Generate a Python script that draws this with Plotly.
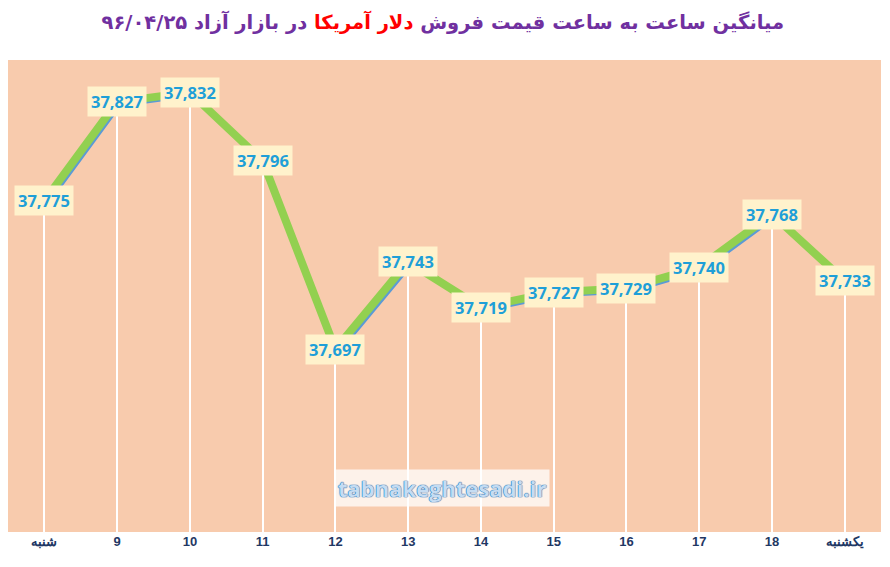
import plotly.graph_objects as go

hours = ["شنبه", "9", "10", "11", "12", "13", "14", "15", "16", "17", "18", "یکشنبه"]
prices = [37775, 37827, 37832, 37796, 37697, 37743, 37719, 37727, 37729, 37740, 37768, 37733]

y_range = [37601, 37849]
x_range = [-0.5, len(hours) - 0.5]

fig = go.Figure()

# white drop lines from each point down to the axis
fig.add_trace(go.Bar(
    x=hours, y=prices, width=0.03,
    marker=dict(color="white", line=dict(width=0)),
    hoverinfo="skip", showlegend=False,
))

# thin blue line peeking out under the green one (shadow, slightly offset axes)
fig.add_trace(go.Scatter(
    x=hours, y=prices, mode="lines",
    line=dict(color="#5B9BD5", width=3),
    xaxis="x2", yaxis="y2",
    hoverinfo="skip", showlegend=False,
))

# main green line, on its own overlay so it sits above the blue one
fig.add_trace(go.Scatter(
    x=hours, y=prices, mode="lines",
    line=dict(color="#92D050", width=8),
    xaxis="x3", yaxis="y3",
    showlegend=False,
))

annotations = []
for i, p in enumerate(prices):
    annotations.append(dict(
        x=i, y=p, text=f"{p:,}",
        showarrow=False, xanchor="center", yanchor="middle",
        font=dict(family="Open Sans, sans-serif", size=16.5, color="#1E9FD8", weight="bold"),
        bgcolor="#FFF2CC", borderpad=3,
    ))

annotations.append(dict(
    xref="paper", yref="paper", x=0.497, y=0.093,
    text="tabnakeghtesadi.ir", showarrow=False,
    xanchor="center", yanchor="middle",
    font=dict(family="Open Sans, sans-serif", size=22, color="#C5DCF2", weight="bold",
              shadow="0 0 1px #2E75B6, 0 0 1px #2E75B6, 0 0 1px #2E75B6"),
    bgcolor="rgba(255,255,255,0.75)", borderpad=3,
))

title_text = ("میانگین ساعت به ساعت قیمت فروش "
              "<span style='color:#FF0000'>دلار آمریکا</span>"
              " در بازار آزاد ۹۶/۰۴/۲۵")

# page body adds an 8px margin, so the figure is 8px smaller on each side
fig.update_layout(
    width=882, height=559,
    margin=dict(l=0, r=9, t=52, b=35),
    paper_bgcolor="white",
    plot_bgcolor="#F8CBAD",
    bargap=0,
    title=dict(
        text=title_text, x=0.493, xanchor="center",
        y=1 - 14 / 559, yanchor="middle", yref="container",
        font=dict(family="DejaVu Sans, sans-serif", size=19.5, color="#7030A0", weight="bold"),
    ),
    xaxis=dict(
        type="category", range=x_range, showgrid=False, zeroline=False,
        showline=False, ticks="", automargin=False,
        tickfont=dict(family="Liberation Sans Narrow, Liberation Sans, sans-serif",
                      size=13, color="#1F3864", weight="bold"),
    ),
    xaxis2=dict(
        type="category", overlaying="x", automargin=False,
        range=[x_range[0] - 0.041, x_range[1] - 0.041], visible=False,
    ),
    xaxis3=dict(
        type="category", overlaying="x", automargin=False,
        range=x_range, visible=False,
    ),
    yaxis=dict(range=y_range, visible=False, automargin=False),
    yaxis2=dict(
        overlaying="y", range=[y_range[0] + 1.85, y_range[1] + 1.85], visible=False,
        automargin=False,
    ),
    yaxis3=dict(
        overlaying="y", range=y_range, visible=False, automargin=False,
    ),
    annotations=annotations,
)

fig.write_html("out.html")
